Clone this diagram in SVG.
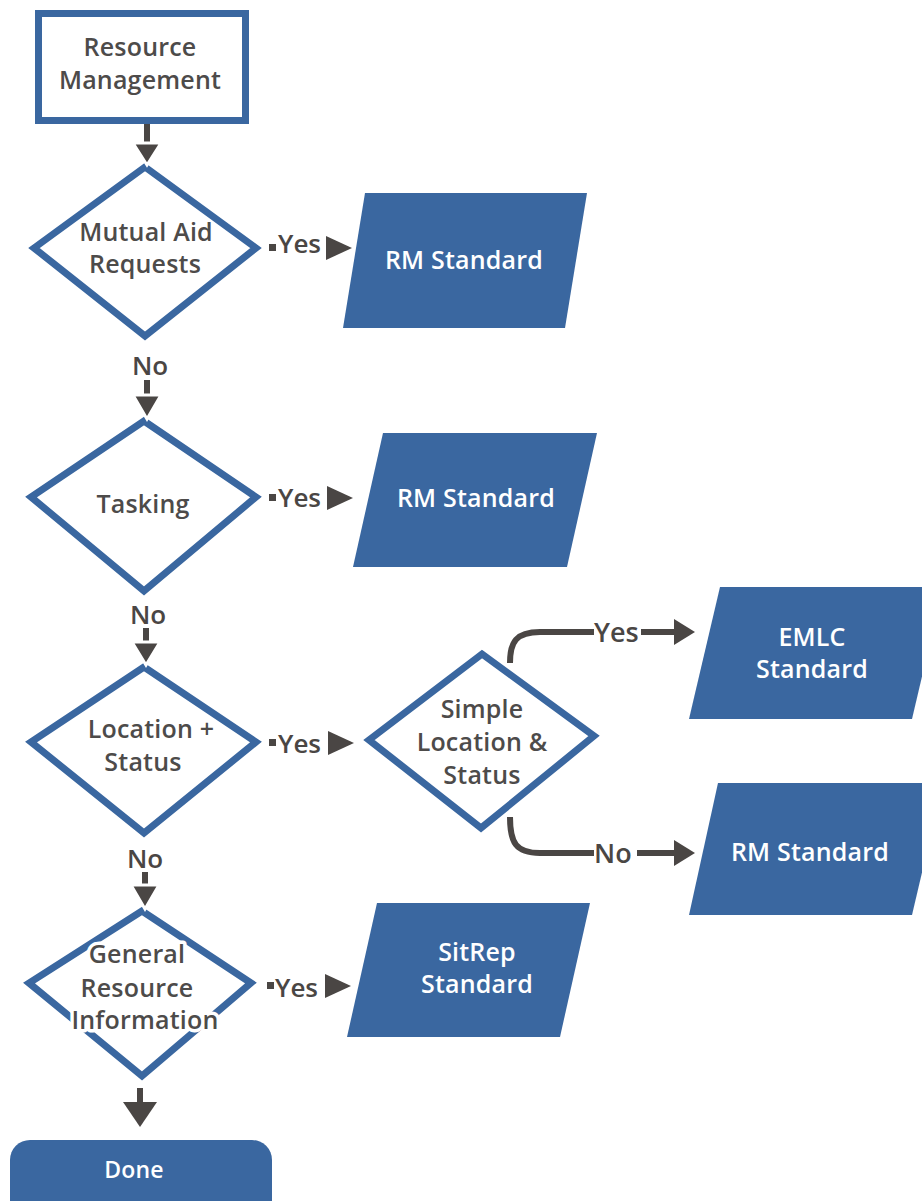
<svg xmlns="http://www.w3.org/2000/svg" width="922" height="1201" viewBox="0 0 922 1201">
  <style>
    .decision { fill: #ffffff; stroke: #3a67a0; stroke-width: 7; stroke-linejoin: miter; }
    .process { fill: #ffffff; stroke: #3a67a0; stroke-width: 7; }
    .output { fill: #3a67a0; }
    .dark { font-family: "Open Sans", "Liberation Sans", sans-serif; font-weight: 600; font-size: 25px; letter-spacing: 0.2px; fill: #4d4b4a; text-anchor: middle; }
    .light { font-family: "Open Sans", "Liberation Sans", sans-serif; font-weight: 600; font-size: 25px; letter-spacing: 0.2px; fill: #ffffff; text-anchor: middle; }
    .label { font-family: "Open Sans", "Liberation Sans", sans-serif; font-weight: 600; font-size: 26px; fill: #4a4644; }
    .halo { paint-order: stroke; stroke: #ffffff; stroke-width: 7px; stroke-linejoin: round; }
    .line { fill: none; stroke: #4a4644; stroke-width: 6; }
    .head { fill: #4a4644; }
    .headcut { fill: #4a4644; stroke: #ffffff; stroke-width: 3; }
  </style>

  <rect width="922" height="1201" fill="#ffffff"/>

  <!-- start box -->
  <g id="resource-management">
    <rect class="process" x="38.5" y="13.5" width="207" height="107"/>
    <text class="dark" x="140" y="56">Resource</text>
    <text class="dark" x="140" y="89">Management</text>
  </g>

  <!-- decisions -->
  <g id="mutual-aid">
    <polygon class="decision" points="145,167 256,248 145,336 34,248"/>
    <text class="dark" x="146" y="241">Mutual Aid</text>
    <text class="dark" x="145" y="273">Requests</text>
  </g>

  <g id="tasking">
    <polygon class="decision" points="144,421 256,497 144,591 31,497"/>
    <text class="dark" x="143" y="513">Tasking</text>
  </g>

  <g id="location-status">
    <polygon class="decision" points="144,667 256,742 144,833 31,742"/>
    <text class="dark" x="151" y="738">Location +</text>
    <text class="dark" x="143" y="771">Status</text>
  </g>

  <g id="simple-location">
    <polygon class="decision" points="482,654 594,736 481,828 369,740"/>
    <text class="dark" x="482" y="718">Simple</text>
    <text class="dark" x="482" y="751">Location &amp;</text>
    <text class="dark" x="482" y="784">Status</text>
  </g>

  <g id="general-resource">
    <polygon class="decision" points="142,911 251,983 142,1076 29,983"/>
    <text class="dark halo" x="137" y="963">General</text>
    <text class="dark halo" x="137" y="997">Resource</text>
    <text class="dark halo" x="145" y="1029">Information</text>
  </g>

  <!-- outputs -->
  <g id="rm-standard-1">
    <polygon class="output" points="365,193 587,193 565,328 343,328"/>
    <text class="light" x="464" y="269">RM Standard</text>
  </g>

  <g id="rm-standard-2">
    <polygon class="output" points="383,433 597,433 567,567 353,567"/>
    <text class="light" x="476" y="507">RM Standard</text>
  </g>

  <g id="emlc-standard">
    <polygon class="output" points="720,587 943,587 912,719 689,719"/>
    <text class="light" x="812" y="646">EMLC</text>
    <text class="light" x="812" y="678">Standard</text>
  </g>

  <g id="rm-standard-3">
    <polygon class="output" points="718,783 943,783 912,915 689,915"/>
    <text class="light" x="810" y="861">RM Standard</text>
  </g>

  <g id="sitrep-standard">
    <polygon class="output" points="377,903 590,903 560,1037 347,1037"/>
    <text class="light" x="477" y="961">SitRep</text>
    <text class="light" x="477" y="993">Standard</text>
  </g>

  <!-- end -->
  <g id="done">
    <rect class="output" x="10" y="1140" width="262" height="80" rx="20"/>
    <text class="light" x="134" y="1178" style="font-size:23px">Done</text>
  </g>

  <!-- connectors -->
  <g id="connectors">
    <!-- vertical flow -->
    <line class="line" x1="147" y1="124" x2="147" y2="146"/>
    <polygon class="headcut" points="133,143 161,143 147,165"/>

    <text class="label" x="150" y="375" text-anchor="middle">No</text>
    <line class="line" x1="147" y1="380" x2="147" y2="398"/>
    <polygon class="headcut" points="133,395 161,395 147,419"/>

    <text class="label" x="148" y="624" text-anchor="middle">No</text>
    <line class="line" x1="146" y1="628" x2="146" y2="645"/>
    <polygon class="headcut" points="132,642 160,642 146,665"/>

    <text class="label" x="145" y="868" text-anchor="middle">No</text>
    <line class="line" x1="145" y1="872" x2="145" y2="888"/>
    <polygon class="headcut" points="131,885 159,885 145,909"/>

    <line class="line" x1="140" y1="1088" x2="140" y2="1105"/>
    <polygon class="head" points="123,1102 157,1102 140,1127"/>

    <!-- yes branches -->
    <rect class="head" x="269" y="244" width="7" height="7"/>
    <text class="label" x="278" y="253">Yes</text>
    <polygon class="head" points="326,236 352,248 326,260"/>

    <rect class="head" x="269" y="494" width="7" height="7"/>
    <text class="label" x="278" y="507">Yes</text>
    <polygon class="head" points="327,486 353,498 327,510"/>

    <rect class="head" x="269" y="739" width="7" height="7"/>
    <text class="label" x="278" y="753">Yes</text>
    <polygon class="head" points="328,731 354,743 328,755"/>

    <rect class="head" x="267" y="982" width="7" height="7"/>
    <text class="label" x="275" y="997">Yes</text>
    <polygon class="head" points="325,974 351,986 325,998"/>

    <!-- simple location branches -->
    <path class="line" d="M510,663 C510,642 516,632 540,632 L594,632"/>
    <text class="label" x="594" y="642" style="font-size:27px">Yes</text>
    <line class="line" x1="641" y1="632" x2="677" y2="632"/>
    <polygon class="head" points="674,619 695,632 674,645"/>

    <path class="line" d="M510,817 C510,843 516,853 540,853 L594,853"/>
    <text class="label" x="594" y="863" style="font-size:27px">No</text>
    <line class="line" x1="637" y1="853" x2="677" y2="853"/>
    <polygon class="head" points="674,840 695,853 674,866"/>
  </g>
</svg>
